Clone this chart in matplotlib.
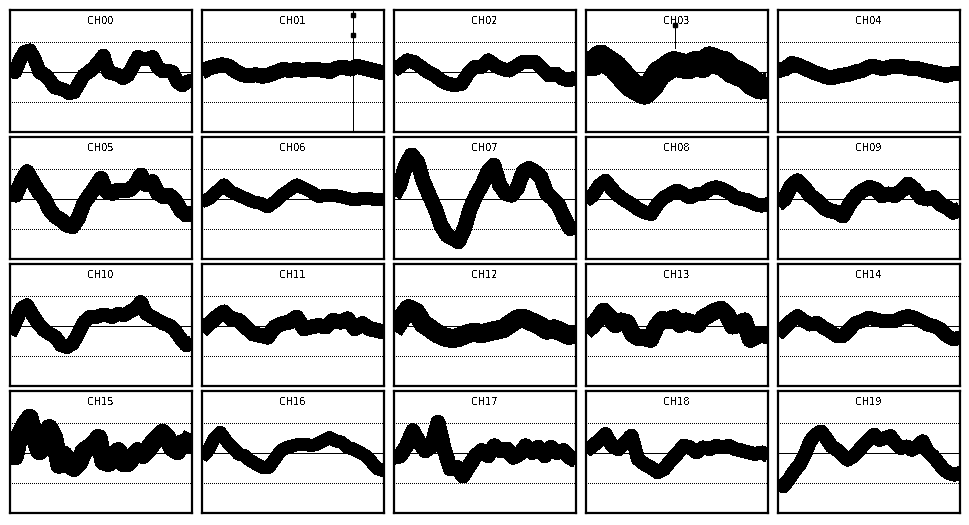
import numpy as np
import matplotlib
matplotlib.use("Agg")
import matplotlib.pyplot as plt

# channel traces (units: dotted line = 1)
ch00 = [0.17, 0.0, 0.4, 0.67, 0.72, 0.44, 0.0, -0.08, -0.25, -0.5, -0.55, -0.6, -0.7, -0.67,
        -0.39, -0.11, 0.0, 0.14, 0.33, 0.55, 0.0, -0.05, -0.1, -0.2, -0.1, 0.2, 0.5, 0.44,
        0.44, 0.5, 0.17, 0.03, 0.05, 0.0, -0.33, -0.44, -0.33, -0.28]
ch01 = [0.0, 0.13, 0.19, 0.24, 0.19, 0.02, -0.09, -0.12, -0.09, -0.14, -0.09, 0.0, 0.08,
        0.06, 0.08, 0.06, 0.08, 0.08, 0.06, 0.02, 0.13, 0.16, 0.1, 0.19, 0.13, 0.08, 0.02, -0.03]
ch02 = [0.05, 0.22, 0.39, 0.33, 0.17, 0.0, -0.11, -0.28, -0.39, -0.44, -0.39, -0.05, 0.17,
        0.17, 0.39, 0.22, 0.11, 0.05, 0.17, 0.33, 0.33, 0.33, 0.11, -0.11, -0.05, -0.22, -0.28, -0.17]
ch03 = [0.28, 0.28, 0.5, 0.33, 0.17, -0.11, -0.39, -0.55, -0.67, -0.44, -0.05, 0.11, 0.28,
        0.22, 0.17, 0.28, 0.22, 0.44, 0.33, 0.28, 0.05, -0.05, -0.17, -0.39, -0.5, -0.44]
ch04 = [0.05, 0.11, 0.28, 0.22, 0.11, 0.0, -0.08, -0.17, -0.17, -0.11, -0.08, 0.0, 0.05,
        0.17, 0.17, 0.11, 0.17, 0.17, 0.17, 0.11, 0.11, 0.05, 0.0, -0.05, -0.11, -0.05, -0.05]
ch05 = [0.19, 0.13, 0.58, 0.91, 0.58, 0.24, 0.02, -0.37, -0.59, -0.7, -0.87, -0.92, -0.64,
        -0.14, 0.13, 0.41, 0.69, 0.24, 0.19, 0.3, 0.3, 0.3, 0.47, 0.8, 0.47, 0.58, 0.19, 0.08,
        0.13, -0.03, -0.37, -0.53, -0.48]
ch06 = [-0.09, 0.02, 0.24, 0.47, 0.24, 0.13, 0.02, -0.09, -0.14, -0.26, -0.09, 0.13, 0.3,
        0.47, 0.36, 0.24, 0.08, 0.13, 0.13, 0.08, 0.02, -0.03, 0.02, 0.02, -0.03, -0.03]
ch07 = [0.13, 0.47, 1.13, 1.47, 1.24, 0.58, 0.13, -0.31, -0.87, -1.2, -1.31, -1.42, -0.98,
        -0.31, 0.13, 0.47, 0.91, 1.13, 0.47, 0.19, 0.13, 0.36, 0.91, 1.02, 0.91, 0.74, 0.19,
        0.02, -0.2, -0.64, -0.98, -0.87]
ch08 = [-0.05, 0.11, 0.44, 0.61, 0.33, 0.11, -0.05, -0.17, -0.33, -0.44, -0.5, -0.17, 0.05,
        0.17, 0.28, 0.17, 0.05, 0.17, 0.17, 0.33, 0.39, 0.33, 0.22, 0.05, 0.0, -0.05, -0.17,
        -0.22, -0.17]
ch09 = [-0.17, 0.0, 0.44, 0.61, 0.39, 0.11, -0.05, -0.28, -0.39, -0.44, -0.56, -0.17, 0.11,
        0.28, 0.39, 0.33, 0.11, 0.17, 0.11, 0.28, 0.5, 0.33, 0.05, 0.0, 0.05, -0.17, -0.28,
        -0.44, -0.33]
ch10 = [-0.26, 0.13, 0.58, 0.69, 0.36, 0.08, -0.14, -0.26, -0.37, -0.64, -0.7, -0.59, -0.26,
        0.13, 0.3, 0.3, 0.36, 0.36, 0.3, 0.41, 0.36, 0.47, 0.58, 0.8, 0.41, 0.3, 0.19, 0.08,
        0.02, -0.14, -0.42, -0.64, -0.53]
ch11 = [-0.14, 0.08, 0.3, 0.47, 0.24, 0.19, -0.03, -0.26, -0.31, -0.37, -0.03, 0.08, 0.13,
        0.3, -0.09, -0.03, 0.02, -0.03, 0.19, 0.13, 0.24, -0.09, 0.08, -0.09, -0.14, -0.2]
ch12 = [-0.14, 0.24, 0.58, 0.47, 0.08, -0.09, -0.26, -0.37, -0.42, -0.37, -0.26, -0.2, -0.26,
        -0.2, -0.14, -0.09, 0.08, 0.24, 0.24, 0.13, 0.02, -0.14, -0.09, -0.2, -0.31, -0.26]
ch13 = [-0.17, 0.0, 0.22, 0.5, 0.28, 0.05, 0.17, 0.11, -0.28, -0.39, -0.39, -0.44, 0.0, 0.22,
        0.17, 0.28, 0.05, 0.17, 0.11, 0.05, 0.28, 0.39, 0.5, 0.56, 0.39, 0.0, 0.05, 0.17,
        -0.44, -0.33, -0.28, -0.33]
ch14 = [-0.28, -0.05, 0.17, 0.33, 0.17, 0.05, 0.11, -0.05, -0.17, -0.33, -0.33, -0.11, 0.11,
        0.17, 0.28, 0.22, 0.17, 0.17, 0.17, 0.28, 0.33, 0.28, 0.17, 0.05, 0.0, -0.11, -0.33,
        -0.44, -0.39]
ch15 = [0.0, -0.11, 0.61, 0.94, 1.17, 0.5, 0.06, 0.28, 0.83, 0.5, -0.39, -0.06, -0.39, -0.5,
        -0.33, 0.06, 0.17, 0.28, 0.5, -0.28, -0.33, -0.22, 0.06, -0.33, -0.33, -0.11, 0.06,
        -0.06, 0.11, 0.33, 0.5, 0.67, 0.5, 0.17, 0.06, 0.33, 0.28, 0.61]
ch16 = [-0.14, 0.08, 0.47, 0.69, 0.41, 0.19, -0.03, -0.09, -0.26, -0.37, -0.48, -0.48, -0.2,
        0.08, 0.19, 0.24, 0.3, 0.3, 0.24, 0.3, 0.41, 0.52, 0.41, 0.36, 0.19, 0.13, 0.02,
        -0.09, -0.31, -0.53, -0.59]
ch17 = [-0.14, -0.09, 0.24, 0.74, 0.36, 0.08, 0.24, 1.02, 0.13, -0.53, -0.48, -0.76, -0.42,
        -0.09, 0.08, -0.09, 0.24, 0.08, 0.13, -0.14, -0.03, 0.24, 0.02, 0.19, -0.09, 0.19,
        0.02, 0.08, -0.14, -0.26]
ch18 = [0.08, 0.24, 0.41, 0.63, 0.24, 0.13, 0.36, 0.58, -0.2, -0.37, -0.48, -0.64, -0.53,
        -0.26, -0.03, 0.24, 0.19, 0.02, 0.19, 0.13, 0.24, 0.19, 0.24, 0.13, 0.08, 0.02,
        -0.03, 0.02, -0.09]
ch19 = [-1.0, -1.11, -0.89, -0.61, -0.39, -0.06, 0.39, 0.61, 0.72, 0.5, 0.22, 0.11, -0.06,
        -0.22, -0.11, 0.06, 0.28, 0.44, 0.61, 0.44, 0.5, 0.56, 0.33, 0.17, 0.22, 0.11, 0.22,
        0.39, 0.06, -0.11, -0.33, -0.56, -0.67, -0.72, -0.67]

channels = [ch00, ch01, ch02, ch03, ch04, ch05, ch06, ch07, ch08, ch09,
            ch10, ch11, ch12, ch13, ch14, ch15, ch16, ch17, ch18, ch19]
names = ["CH%02d" % i for i in range(20)]

# isolated outliers: (channel, time fraction, low, high, dot values)
spikes = [(1, 0.83, -3.0, 3.0, [1.91, 1.24]),
          (3, 0.49, 0.8, 1.56, [1.56])]

# band thickness per channel, pixels
band_px = [13, 14, 13, 24, 14, 14, 12, 14, 13, 14,
           13, 14, 18, 16, 13, 17, 12, 14, 13, 13]

W, H = 970, 525
col_left = [10, 202, 394, 586, 778]
row_top = [10, 137, 264, 391]
pw, ph = 182, 122

plt.rcParams['text.antialiased'] = False
fig = plt.figure(figsize=(W / 100, H / 100), dpi=100)

for i, vals in enumerate(channels):
    r, c = divmod(i, 5)
    ax = fig.add_axes([col_left[c] / W, 1 - (row_top[r] + ph) / H, pw / W, ph / H])
    t = np.linspace(0, 1, len(vals))
    ax.axhline(0, color='black', lw=0.72, antialiased=False, zorder=1)
    for lv in (1, -1):
        ax.axhline(lv, color='black', lw=0.72, ls=(0, (1, 1.5)), antialiased=False, zorder=1)
    ax.plot(t, vals, color='black', lw=band_px[i] * 0.72, solid_joinstyle='round',
            solid_capstyle='butt', antialiased=False, zorder=2)
    for ch, tx, lo, hi, dots in spikes:
        if ch == i:
            ax.plot([tx, tx], [lo, hi], color='black', lw=0.72, antialiased=False, zorder=3)
            ax.plot([tx] * len(dots), dots, 's', color='black', ms=2.5, antialiased=False, zorder=3)
    ax.set_xlim(0, 1)
    ax.set_ylim(-2.0, 2.07)
    ax.set_xticks([])
    ax.set_yticks([])
    for s in ax.spines.values():
        s.set_linewidth(1.6)
    ax.text(0.5, 0.885, names[i], transform=ax.transAxes, ha='center', va='baseline',
            fontsize=7, family='DejaVu Sans')

fig.savefig('out.png', dpi=100)
